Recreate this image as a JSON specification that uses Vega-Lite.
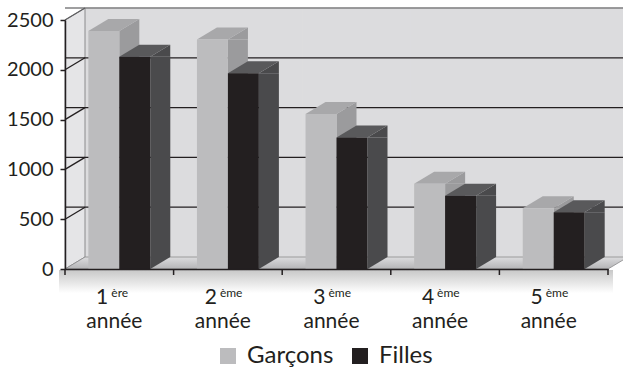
{
  "$schema": "https://vega.github.io/schema/vega-lite/v6.json",
  "width": 543,
  "height": 249,
  "autosize": "none",
  "padding": {"left": 65, "top": 20, "right": 15, "bottom": 100},
  "background": "white",
  "config": {
    "view": {"stroke": null},
    "font": "Lato",
    "axis": {"zindex": 1}
  },
  "data": {
    "values": [
      {"annee": "1ère année", "rang": "1", "suffixe": "ère", "sexe": "Garçons", "effectif": 2390},
      {"annee": "1ère année", "rang": "1", "suffixe": "ère", "sexe": "Filles", "effectif": 2130},
      {"annee": "2ème année", "rang": "2", "suffixe": "ème", "sexe": "Garçons", "effectif": 2305},
      {"annee": "2ème année", "rang": "2", "suffixe": "ème", "sexe": "Filles", "effectif": 1965},
      {"annee": "3ème année", "rang": "3", "suffixe": "ème", "sexe": "Garçons", "effectif": 1555},
      {"annee": "3ème année", "rang": "3", "suffixe": "ème", "sexe": "Filles", "effectif": 1320},
      {"annee": "4ème année", "rang": "4", "suffixe": "ème", "sexe": "Garçons", "effectif": 855},
      {"annee": "4ème année", "rang": "4", "suffixe": "ème", "sexe": "Filles", "effectif": 735},
      {"annee": "5ème année", "rang": "5", "suffixe": "ème", "sexe": "Garçons", "effectif": 610},
      {"annee": "5ème année", "rang": "5", "suffixe": "ème", "sexe": "Filles", "effectif": 570}
    ]
  },
  "layer": [
    {
      "transform": [{"filter": "datum.sexe == 'Garçons'"}],
      "mark": {"type": "bar", "width": {"band": 1.7544}, "xOffset": 20, "yOffset": -12, "y2Offset": -12, "color": "#dcdcde", "stroke": "#dcdcde", "strokeWidth": 1},
      "encoding": {
        "x": {"field": "annee", "type": "nominal", "sort": null,
              "scale": {"paddingInner": 0.43, "paddingOuter": 0.215},
              "axis": {"title": null, "zindex": 2, "labelExpr": "split(datum.label, ' ')[1]", "labelFont": "Lato", "labelFontSize": 21, "labelColor": "#231f20",
                       "labelBaseline": "alphabetic", "labelPadding": 58, "labelOffset": -5, "ticks": false,
                       "domainColor": "#231f20", "domainWidth": 1.5, "labelAngle": 0}},
        "y": {"datum": 2500, "type": "quantitative",
              "scale": {"domain": [0, 2500], "nice": false},
              "axis": {"title": null, "zindex": 2, "values": [0, 500, 1000, 1500, 2000, 2500], "format": "d", "labelFont": "Lato", "labelFontSize": 20, "labelColor": "#231f20",
                       "labelPadding": 7, "tickSize": 5, "tickColor": "#231f20", "tickWidth": 1.5, "domainColor": "#231f20", "domainWidth": 1.5, "grid": false}},
        "y2": {"datum": 0}
      }
    },
    {
      "data": {"values": [{"zone": "ombre"}]},
      "mark": {"type": "point", "shape": "M-6,1 L548,1 L548,24 L-6,24 Z", "size": 4, "filled": true, "opacity": 1, "strokeWidth": 0,
               "color": {"gradient": "linear", "x1": 0, "y1": 0, "x2": 0, "y2": 1, "stops": [{"offset": 0, "color": "#c8c8c8"}, {"offset": 1, "color": "#ffffff"}]}},
      "encoding": {"x": {"value": 0}, "y": {"datum": 0, "type": "quantitative"}}
    },
    {
      "data": {"values": [{"mur": "gauche"}]},
      "mark": {"type": "point", "shape": "M0,0 L0,-249 L20,-261 L20,-12 Z", "size": 4, "filled": true, "opacity": 1, "color": "#e5e5e7", "stroke": "#8a8a8c", "strokeWidth": 1},
      "encoding": {"x": {"value": 0}, "y": {"datum": 0, "type": "quantitative"}}
    },
    {
      "data": {"values": [{"mur": "sol"}]},
      "mark": {"type": "point", "shape": "M0,0 L543,0 L563,-12 L20,-12 Z", "size": 4, "filled": true, "opacity": 1, "stroke": "#8a8a8c", "strokeWidth": 0.8,
               "color": {"gradient": "linear", "x1": 0, "y1": 0, "x2": 0, "y2": 1, "stops": [{"offset": 0, "color": "#dcdcde"}, {"offset": 1, "color": "#b4b4b6"}]}},
      "encoding": {"x": {"value": 0}, "y": {"datum": 0, "type": "quantitative"}}
    },
    {
      "data": {"values": [{"v": 500}, {"v": 1000}, {"v": 1500}, {"v": 2000}, {"v": 2500}]},
      "mark": {"type": "rule", "xOffset": 20, "x2Offset": 20, "yOffset": -12, "strokeWidth": 1.3},
      "encoding": {
        "y": {"field": "v", "type": "quantitative"},
        "color": {"condition": {"test": "datum.v == 2500", "value": "#7f7f81"}, "value": "#231f20"}
      }
    },
    {
      "data": {"values": [{"v": 500}, {"v": 1000}, {"v": 1500}, {"v": 2000}, {"v": 2500}]},
      "mark": {"type": "point", "shape": "M0,0 L20,-12", "size": 4, "filled": false, "opacity": 1, "strokeWidth": 1.3},
      "encoding": {
        "x": {"value": 0},
        "y": {"field": "v", "type": "quantitative"},
        "color": {"condition": {"test": "datum.v == 2500", "value": "#5f5f61"}, "value": "#231f20"}
      }
    },
    {
      "transform": [{"filter": "datum.sexe == 'Garçons'"}],
      "mark": {"type": "rule", "xOffset": -23.35, "y2Offset": 6, "color": "#231f20", "strokeWidth": 1.5},
      "encoding": {
        "x": {"field": "annee", "type": "nominal", "sort": null, "bandPosition": 0},
        "y": {"datum": 0, "type": "quantitative"},
        "y2": {"datum": 0}
      }
    },
    {
      "transform": [{"filter": "datum.sexe == 'Garçons' && datum.rang == '5'"}],
      "mark": {"type": "rule", "xOffset": 23.35, "y2Offset": 6, "color": "#231f20", "strokeWidth": 1.5},
      "encoding": {
        "x": {"field": "annee", "type": "nominal", "sort": null, "bandPosition": 1},
        "y": {"datum": 0, "type": "quantitative"},
        "y2": {"datum": 0}
      }
    },
    {
      "transform": [{"filter": "datum.sexe == 'Garçons'"}],
      "mark": {"type": "bar", "width": 20, "xOffset": 10, "y2Offset": -12, "color": "#9b9b9d"},
      "encoding": {
        "x": {"field": "annee", "type": "nominal", "sort": null},
        "y": {"field": "effectif", "type": "quantitative"},
        "y2": {"datum": 0}
      }
    },
    {
      "transform": [{"filter": "datum.sexe == 'Filles'"}],
      "mark": {"type": "bar", "width": 20, "xOffset": 41, "y2Offset": -12, "color": "#4a4a4c"},
      "encoding": {
        "x": {"field": "annee", "type": "nominal", "sort": null},
        "y": {"field": "effectif", "type": "quantitative"},
        "y2": {"datum": 0}
      }
    },
    {
      "mark": {"type": "point", "shape": "M15.5,0 L35.5,-12 L35.5,0 Z", "size": 4, "filled": true, "opacity": 1, "strokeWidth": 0},
      "encoding": {
        "x": {"field": "annee", "type": "nominal", "sort": null},
        "xOffset": {"field": "sexe", "sort": ["Garçons", "Filles"]},
        "y": {"field": "effectif", "type": "quantitative"},
        "color": {"condition": {"test": "datum.sexe == 'Garçons'", "value": "#9b9b9d"}, "value": "#4a4a4c"}
      }
    },
    {
      "mark": {"type": "point", "shape": "M15.5,-12 L15.5,0 L35.5,-12 Z", "size": 4, "filled": true, "opacity": 1, "strokeWidth": 0},
      "encoding": {
        "x": {"field": "annee", "type": "nominal", "sort": null},
        "xOffset": {"field": "sexe", "sort": ["Garçons", "Filles"]},
        "y": {"datum": 0, "type": "quantitative"},
        "color": {"condition": {"test": "datum.sexe == 'Garçons'", "value": "#9b9b9d"}, "value": "#4a4a4c"}
      }
    },
    {
      "mark": {"type": "point", "shape": "M-15.5,0 L15.5,0 L35.5,-12 L4.5,-12 Z", "size": 4, "filled": true, "opacity": 1, "strokeWidth": 0},
      "encoding": {
        "x": {"field": "annee", "type": "nominal", "sort": null},
        "xOffset": {"field": "sexe", "sort": ["Garçons", "Filles"]},
        "y": {"field": "effectif", "type": "quantitative"},
        "color": {"condition": {"test": "datum.sexe == 'Garçons'", "value": "#a8a8aa"}, "value": "#59595b"}
      }
    },
    {
      "mark": {"type": "bar"},
      "encoding": {
        "x": {"field": "annee", "type": "nominal", "sort": null},
        "xOffset": {"field": "sexe", "sort": ["Garçons", "Filles"]},
        "y": {"field": "effectif", "type": "quantitative"},
        "color": {"field": "sexe", "type": "nominal",
                  "scale": {"domain": ["Garçons", "Filles"], "range": ["#bcbcbe", "#231f20"]},
                  "legend": {"orient": "none", "legendX": 151, "legendY": 324, "direction": "horizontal", "title": null,
                             "symbolType": "square", "symbolSize": 256, "symbolStrokeWidth": 0, "symbolOpacity": 1,
                             "labelFont": "Lato", "labelFontSize": 24, "labelColor": "#231f20", "labelOffset": 7, "columnPadding": 14}}
      }
    },
    {
      "transform": [{"filter": "datum.sexe == 'Garçons'"}],
      "mark": {"type": "text", "font": "Lato", "fontSize": 21, "color": "#231f20", "align": "right", "baseline": "alphabetic", "dx": -11, "dy": 35},
      "encoding": {
        "x": {"field": "annee", "type": "nominal", "sort": null},
        "y": {"datum": 0, "type": "quantitative"},
        "text": {"field": "rang"}
      }
    },
    {
      "transform": [{"filter": "datum.sexe == 'Garçons'"}],
      "mark": {"type": "text", "font": "Lato", "fontSize": 12, "color": "#231f20", "align": "left", "baseline": "alphabetic", "dx": -8, "dy": 28},
      "encoding": {
        "x": {"field": "annee", "type": "nominal", "sort": null},
        "y": {"datum": 0, "type": "quantitative"},
        "text": {"field": "suffixe"}
      }
    }
  ]
}
